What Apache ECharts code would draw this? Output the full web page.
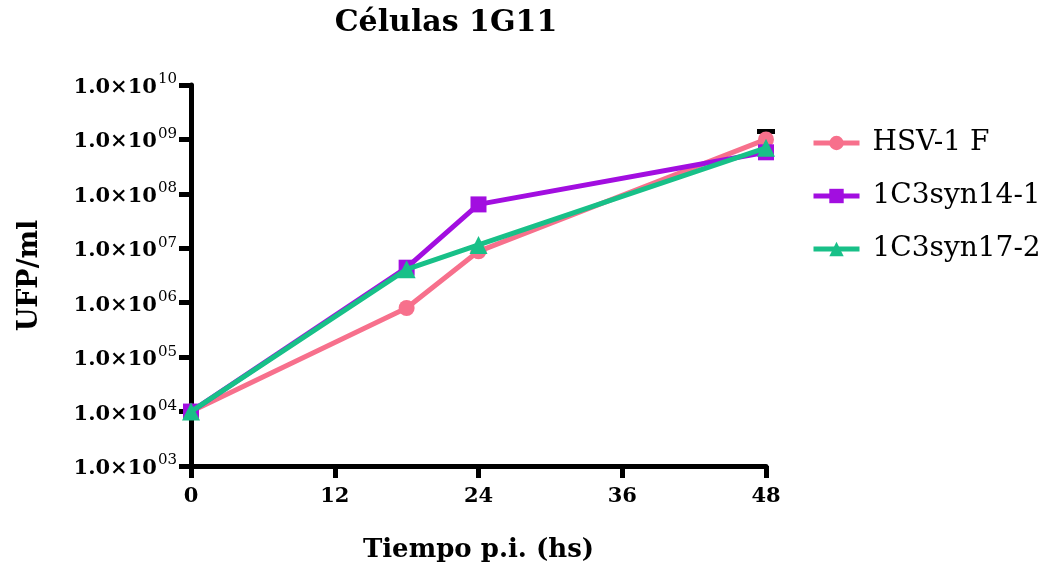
<!DOCTYPE html>
<html>
<head>
<meta charset="utf-8">
<script src="https://cdn.jsdelivr.net/npm/echarts@6/dist/echarts.min.js"></script>
<style>
  html, body { margin: 0; padding: 0; background: #fff; }
  #chart { width: 1046px; height: 569px; }
</style>
</head>
<body>
<div id="chart"></div>
<script>
// Time points (hours post-infection)
const hours = [0, 18, 24, 48];
// Viral titres (UFP/ml)
const hsv1F = [1e4, 8.0e5, 8.8e6, 1.0e9];
const syn14 = [1e4, 4.4e6, 6.4e7, 5.8e8];
const syn17 = [1e4, 4.1e6, 1.15e7, 7.0e8];
// Upper error limit for HSV-1 F (only shown at 48 h)
const hsv1FUpper = [null, null, null, 1.4e9];
// Axis ticks
const xTicks = [0, 12, 24, 36, 48];
const yExponents = ['03', '04', '05', '06', '07', '08', '09', '10'];

const seriesNames = ['HSV-1 F', '1C3syn14-1', '1C3syn17-2'];
const colors = ['#f7708c', '#a20ee0', '#18c088'];

const FONT = 'DejaVu Serif';

const toPairs = (vals) => hours.map((h, i) => [h, vals[i]]);

const chart = echarts.init(document.getElementById('chart'));

function expOf(v) {
  return Math.round(Math.log10(v));
}

const option = {
  animation: false,
  backgroundColor: '#fff',
  title: {
    text: 'Células 1G11',
    left: 441,
    textAlign: 'center',
    top: 3,
    textStyle: { fontFamily: FONT, fontWeight: 'bold', fontSize: 30, color: '#000' }
  },
  grid: { left: 191, right: 280, top: 85, bottom: 103 },
  legend: {
    orient: 'vertical',
    left: 806,
    top: 124,
    itemWidth: 46,
    itemHeight: 18,
    itemGap: 25,
    data: seriesNames,
    lineStyle: { width: 5 },
    textStyle: { fontFamily: FONT, fontSize: 28, color: '#000', padding: [0, 0, 0, 8] }
  },
  xAxis: {
    type: 'value',
    min: 0,
    max: 48,
    interval: 12,
    name: 'Tiempo p.i. (hs)',
    nameLocation: 'middle',
    nameGap: 71,
    nameTextStyle: { fontFamily: FONT, fontWeight: 'bold', fontSize: 26, color: '#000' },
    axisLine: { lineStyle: { color: '#000', width: 5 } },
    axisTick: { length: 12, lineStyle: { color: '#000', width: 5 } },
    axisLabel: {
      margin: 20,
      fontFamily: FONT, fontWeight: 'bold', fontSize: 21, color: '#000',
      formatter: (v) => xTicks.includes(v) ? String(v) : ''
    },
    splitLine: { show: false }
  },
  yAxis: {
    type: 'log',
    logBase: 10,
    min: 1e3,
    max: 1e10,
    name: 'UFP/ml',
    nameLocation: 'middle',
    nameRotate: 90,
    nameGap: 148,
    nameTextStyle: { fontFamily: FONT, fontWeight: 'bold', fontSize: 27, color: '#000' },
    axisLine: { onZero: false, lineStyle: { color: '#000', width: 5 } },
    axisTick: { length: 12, lineStyle: { color: '#000', width: 5 } },
    axisLabel: {
      margin: 14,
      formatter: (v) => {
        const e = expOf(v);
        const s = (e < 10 ? '0' : '') + e;
        return yExponents.includes(s) ? '{b|1.0×10}{s|' + s + '}' : '';
      },
      rich: {
        b: { fontFamily: FONT, fontWeight: 'bold', fontSize: 21, color: '#000', lineHeight: 26, verticalAlign: 'bottom' },
        s: { fontFamily: FONT, fontSize: 15, color: '#000', lineHeight: 26, verticalAlign: 'top', padding: [0, 0, 9, 1] }
      }
    },
    splitLine: { show: false }
  },
  series: [
    {
      name: seriesNames[0],
      type: 'line',
      z: 2,
      data: toPairs(hsv1F),
      symbol: 'circle',
      symbolSize: 16,
      lineStyle: { width: 5, color: colors[0] },
      itemStyle: { color: colors[0] }
    },
    {
      name: 'hsvErr',
      type: 'custom',
      z: 1,
      silent: true,
      data: hours.map((h, i) => [h, hsv1F[i], hsv1FUpper[i]]).filter(d => d[2] != null),
      renderItem: (params, api) => {
        const x = api.value(0);
        const lo = api.coord([x, api.value(1)]);
        const hi = api.coord([x, api.value(2)]);
        const cap = 9;
        return {
          type: 'group',
          children: [
            { type: 'line', shape: { x1: lo[0], y1: lo[1], x2: hi[0], y2: hi[1] }, style: { stroke: '#000', lineWidth: 5 } },
            { type: 'line', shape: { x1: hi[0] - cap, y1: hi[1], x2: hi[0] + cap, y2: hi[1] }, style: { stroke: '#000', lineWidth: 5 } }
          ]
        };
      }
    },
    {
      name: seriesNames[1],
      type: 'line',
      z: 3,
      data: toPairs(syn14),
      symbol: 'rect',
      symbolSize: 16,
      lineStyle: { width: 5, color: colors[1] },
      itemStyle: { color: colors[1] }
    },
    {
      name: seriesNames[2],
      type: 'line',
      z: 4,
      data: toPairs(syn17),
      symbol: 'triangle',
      symbolSize: 18,
      lineStyle: { width: 5, color: colors[2] },
      itemStyle: { color: colors[2] }
    }
  ]
};

chart.setOption(option);
</script>
</body>
</html>
